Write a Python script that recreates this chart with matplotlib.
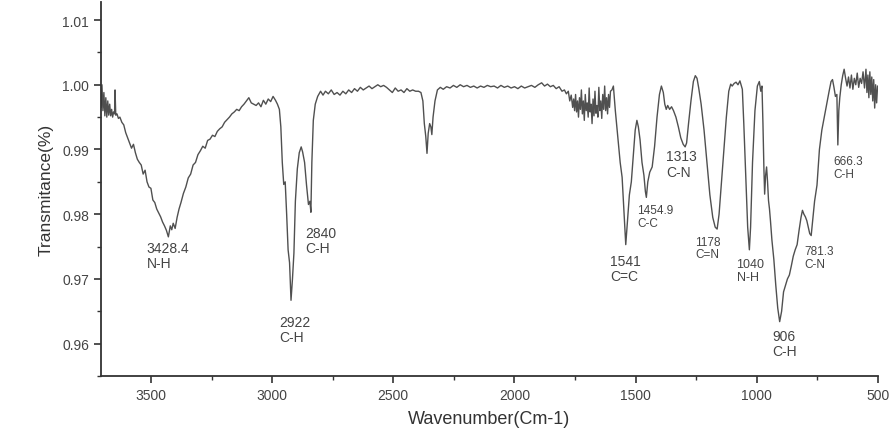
import matplotlib.pyplot as plt
from matplotlib.ticker import MultipleLocator

plt.rcParams['font.family'] = ['Liberation Sans', 'DejaVu Sans']

# FTIR spectrum (wavenumber in cm-1, transmittance)
wavenumber = [
    3706, 3702, 3698, 3694, 3690, 3686, 3682, 3678, 3674, 3670, 3666, 3662, 3658, 3654, 3650, 3648, 3645,
    3640, 3634, 3628, 3620, 3612, 3604, 3596, 3588, 3580, 3572, 3564, 3556, 3548, 3540, 3532, 3524,
    3516, 3508, 3500, 3492, 3484, 3476, 3468, 3460, 3452, 3444, 3436, 3428, 3420, 3414, 3408, 3400,
    3392, 3384, 3376, 3366, 3356, 3346, 3336, 3326, 3316, 3306, 3296, 3286, 3276, 3266, 3256, 3246,
    3236, 3226, 3216, 3206, 3196, 3186, 3176, 3166, 3156, 3146, 3136, 3126, 3116, 3106, 3096, 3086,
    3076, 3066, 3056, 3046, 3036, 3026, 3016, 3006, 2996, 2986, 2978, 2970, 2964, 2958, 2952, 2946,
    2940, 2934, 2928, 2922, 2916, 2910, 2904, 2896, 2888, 2880, 2874, 2866, 2858, 2850, 2844, 2840,
    2836, 2830, 2822, 2812, 2800, 2790, 2780, 2768, 2756, 2744, 2732, 2720, 2708, 2696, 2684, 2672,
    2660, 2648, 2636, 2624, 2612, 2600, 2588, 2576, 2564, 2552, 2540, 2528, 2516, 2504, 2492, 2480,
    2468, 2456, 2444, 2432, 2420, 2408, 2396, 2386, 2378, 2372, 2366, 2361, 2356, 2350, 2345, 2341,
    2336, 2328, 2318, 2306, 2294, 2280, 2266, 2252, 2238, 2224, 2210, 2196, 2182, 2168, 2154, 2140,
    2126, 2112, 2098, 2084, 2070, 2056, 2042, 2028, 2014, 2000, 1986, 1972, 1958, 1944, 1930, 1916,
    1902, 1888, 1876, 1864, 1852, 1840, 1828, 1816, 1804, 1794, 1786, 1778, 1772, 1766, 1760, 1756,
    1752, 1748, 1744, 1740, 1736, 1732, 1728, 1724, 1720, 1716, 1712, 1708, 1704, 1700, 1696, 1692,
    1688, 1684, 1680, 1676, 1672, 1668, 1664, 1660, 1656, 1652, 1648, 1644, 1640, 1636, 1632, 1628,
    1624, 1620, 1616, 1612, 1608, 1604, 1598, 1592, 1584, 1574, 1564, 1556, 1548, 1541, 1534, 1526,
    1518, 1510, 1502, 1495, 1489, 1482, 1474, 1466, 1460, 1456, 1450, 1442, 1432, 1422, 1412, 1402,
    1394, 1386, 1380, 1374, 1368, 1360, 1352, 1344, 1334, 1324, 1314, 1304, 1296, 1290, 1282, 1272,
    1262, 1254, 1247, 1240, 1230, 1218, 1206, 1194, 1182, 1172, 1164, 1156, 1146, 1136, 1126, 1116,
    1108, 1102, 1094, 1086, 1078, 1070, 1064, 1060, 1054, 1046, 1038, 1031, 1026, 1018, 1008, 998,
    990, 984, 979, 975, 971, 968, 964, 960, 956, 952, 948, 944, 938, 930, 922, 914, 906, 898, 890,
    882, 874, 866, 858, 850, 842, 834, 826, 818, 812, 806, 800, 794, 788, 782, 776, 770, 762, 752,
    742, 732, 722, 712, 702, 694, 688, 682, 676, 670, 666, 662, 658, 652, 646, 640, 634, 628, 622,
    616, 610, 604, 598, 592, 586, 580, 574, 568, 562, 556, 550, 546, 542, 538, 534, 530, 526, 522,
    518, 514, 510, 506, 502, 500,
]
transmittance = [
    0.9965, 1.0000, 0.9960, 0.9988, 0.9952, 0.9980, 0.9950, 0.9975, 0.9953, 0.9970, 0.9952, 0.9962, 0.9950, 0.9958, 0.9955, 0.9992, 0.9953,
    0.9955, 0.9948, 0.9950, 0.9942, 0.9938, 0.9926, 0.9918, 0.9910, 0.9902, 0.9908, 0.9895, 0.9885, 0.9880, 0.9876, 0.9862, 0.9868,
    0.9850, 0.9842, 0.9840, 0.9822, 0.9818, 0.9808, 0.9802, 0.9796, 0.9788, 0.9782, 0.9775, 0.9765, 0.9782, 0.9776, 0.9786, 0.9778,
    0.9795, 0.9808, 0.9818, 0.9832, 0.9842, 0.9856, 0.9862, 0.9876, 0.9880, 0.9892, 0.9898, 0.9905, 0.9902, 0.9914, 0.9916, 0.9922,
    0.9920, 0.9928, 0.9932, 0.9935, 0.9942, 0.9946, 0.9950, 0.9955, 0.9958, 0.9962, 0.9960, 0.9966, 0.9970, 0.9975, 0.9980, 0.9972,
    0.9970, 0.9968, 0.9972, 0.9966, 0.9976, 0.9970, 0.9978, 0.9974, 0.9982, 0.9976, 0.9970, 0.9962, 0.9935, 0.9880, 0.9846, 0.9850,
    0.9800, 0.9745, 0.9725, 0.9667, 0.9700, 0.9740, 0.9820, 0.9870, 0.9895, 0.9904, 0.9896, 0.9880, 0.9845, 0.9815, 0.9820, 0.9803,
    0.9880, 0.9945, 0.9970, 0.9982, 0.9990, 0.9984, 0.9990, 0.9986, 0.9992, 0.9985, 0.9988, 0.9984, 0.9990, 0.9986, 0.9992, 0.9988,
    0.9994, 0.9990, 0.9996, 0.9992, 0.9995, 0.9998, 0.9994, 0.9997, 1.0000, 0.9997, 0.9999, 0.9996, 0.9992, 0.9988, 0.9995, 0.9990,
    0.9992, 0.9988, 0.9994, 0.9990, 0.9992, 0.9990, 0.9990, 0.9988, 0.9975, 0.9940, 0.9920, 0.9894, 0.9925, 0.9940, 0.9935, 0.9923,
    0.9950, 0.9975, 0.9992, 0.9996, 0.9993, 0.9997, 0.9995, 0.9999, 0.9996, 1.0000, 0.9997, 0.9999, 0.9996, 0.9998, 0.9995, 0.9998,
    0.9996, 0.9999, 0.9997, 0.9998, 0.9995, 0.9999, 0.9996, 0.9998, 0.9995, 0.9997, 0.9994, 0.9998, 0.9995, 0.9997, 0.9999, 0.9996,
    1.0000, 1.0003, 0.9998, 1.0001, 0.9997, 0.9999, 0.9994, 0.9997, 0.9990, 0.9992, 0.9986, 0.9990, 0.9975, 0.9984, 0.9965, 0.9978,
    0.9960, 0.9985, 0.9958, 0.9975, 0.9950, 0.9980, 0.9962, 0.9992, 0.9955, 0.9975, 0.9945, 0.9985, 0.9960, 0.9972, 0.9950, 0.9995,
    0.9958, 0.9970, 0.9940, 0.9978, 0.9952, 0.9990, 0.9956, 0.9968, 0.9950, 0.9996, 0.9960, 0.9975, 0.9948, 0.9985, 0.9962, 0.9998,
    0.9960, 0.9980, 0.9955, 0.9985, 0.9965, 0.9990, 0.9992, 0.9998, 0.9960, 0.9920, 0.9880, 0.9857, 0.9800, 0.9753, 0.9790, 0.9830,
    0.9850, 0.9890, 0.9930, 0.9945, 0.9935, 0.9915, 0.9880, 0.9860, 0.9835, 0.9826, 0.9850, 0.9865, 0.9873, 0.9905, 0.9950, 0.9985,
    0.9998, 0.9988, 0.9970, 0.9962, 0.9968, 0.9962, 0.9966, 0.9960, 0.9950, 0.9935, 0.9918, 0.9908, 0.9904, 0.9910, 0.9940, 0.9975,
    1.0005, 1.0014, 1.0010, 0.9995, 0.9970, 0.9930, 0.9880, 0.9830, 0.9795, 0.9780, 0.9777, 0.9800, 0.9850, 0.9900, 0.9950, 0.9990,
    1.0001, 0.9998, 1.0002, 1.0004, 1.0000, 1.0006, 0.9998, 0.9993, 0.9940, 0.9860, 0.9780, 0.9745, 0.9780, 0.9880, 0.9960, 0.9998,
    1.0005, 0.9990, 0.9998, 0.9940, 0.9870, 0.9831, 0.9860, 0.9873, 0.9850, 0.9821, 0.9808, 0.9790, 0.9760, 0.9730, 0.9690, 0.9655, 0.9634, 0.9650, 0.9680,
    0.9690, 0.9700, 0.9706, 0.9720, 0.9735, 0.9745, 0.9753, 0.9775, 0.9795, 0.9806, 0.9800, 0.9796, 0.9790, 0.9780, 0.9770, 0.9767, 0.9790, 0.9820, 0.9845,
    0.9900, 0.9930, 0.9950, 0.9970, 0.9990, 1.0005, 1.0008, 0.9996, 0.9982, 0.9985, 0.9907, 0.9960, 0.9980, 1.0000, 1.0014, 1.0024, 1.0010, 0.9998, 1.0012,
    0.9995, 1.0015, 0.9993, 1.0010, 1.0000, 1.0018, 0.9996, 1.0010, 1.0002, 1.0020, 0.9995, 1.0024, 0.9988, 1.0015, 0.9980, 1.0020, 0.9985, 1.0012, 0.9975,
    1.0008, 0.9964, 1.0000, 0.9972, 0.9998, 0.9998,
]

labels = [
    (3517, 0.9759, "3428.4\nN-H", 10),
    (2970, 0.9644, "2922\nC-H", 10),
    (2864, 0.9782, "2840\nC-H", 10),
    (1607, 0.9738, "1541\nC=C", 10),
    (1494, 0.9816, "1454.9\nC-C", 8.5),
    (1373, 0.9900, "1313\nC-N", 10),
    (1254, 0.9767, "1178\nC=N", 8.5),
    (1084, 0.9732, "1040\nN-H", 9),
    (937, 0.9623, "906\nC-H", 10),
    (806, 0.9753, "781.3\nC-N", 8.5),
    (685, 0.9891, "666.3\nC-H", 8.5),
]

fig = plt.figure(figsize=(8.96, 4.35), dpi=100)
ax = fig.add_axes([0.1127, 0.1333, 0.8673, 0.86])
ax.plot(wavenumber, transmittance, color='#505050', lw=1.0)

for x, y, txt, fs in labels:
    ax.text(x, y, txt, ha='left', va='top', fontsize=fs, color='#444444', linespacing=1.1)

ax.set_xlim(3706, 500)
ax.set_ylim(0.955, 1.0128)
ax.xaxis.set_major_locator(MultipleLocator(500))
ax.xaxis.set_minor_locator(MultipleLocator(250))
ax.yaxis.set_major_locator(MultipleLocator(0.01))
ax.yaxis.set_minor_locator(MultipleLocator(0.005))
ax.set_yticks([0.96, 0.97, 0.98, 0.99, 1.00, 1.01])
ax.set_yticklabels(['0.96', '0.97', '0.98', '0.99', '1.00', '1.01'])
ax.set_xticks([3500, 3000, 2500, 2000, 1500, 1000, 500])
ax.set_xticklabels(['3500', '3000', '2500', '2000', '1500', '1000', '500'])

for s in ['top', 'right']:
    ax.spines[s].set_visible(False)
for s in ['left', 'bottom']:
    ax.spines[s].set_linewidth(1.3)
    ax.spines[s].set_color('#333333')
ax.tick_params(which='major', direction='out', length=5, width=1.2, colors='#333333', labelsize=10, labelcolor='#444444')
ax.tick_params(which='minor', direction='out', length=3, width=1.0, colors='#333333')

ax.set_xlabel('Wavenumber(Cm-1)', fontsize=13, color='#333333', labelpad=6)
ax.set_ylabel('Transmitance(%)', fontsize=12.5, color='#333333', labelpad=6)

fig.savefig('out.png', dpi=100)
